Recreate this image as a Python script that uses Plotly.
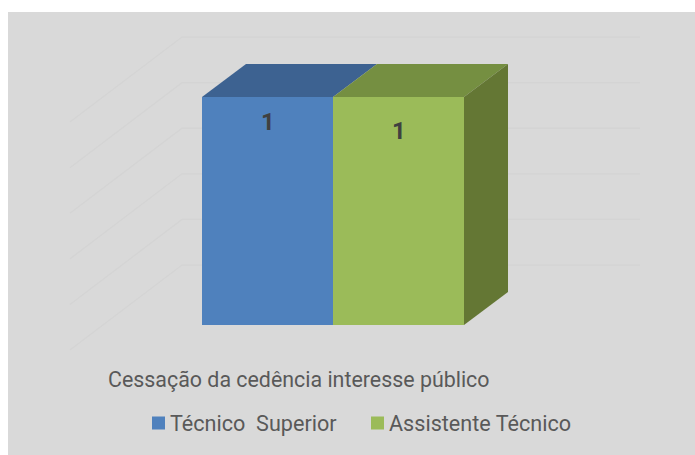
import plotly.graph_objects as go

# Data
categories = ["Técnico\u00a0 Superior", "Assistente Técnico"]
values = [1, 1]
bar_x = [0.5, 1.5]
label_y = [0.89, 0.85]
grid_values = [0, 0.2, 0.4, 0.6, 0.8, 1.0]
title_text = "Cessação da cedência interesse público"

# Style
front = ["#4F81BD", "#9BBB59"]
top = ["#3D6291", "#758F41"]
side = "#647734"
bg = "#D9D9D9"
grid = "#D4D4D4"
font = "Roboto"
dx, dy = 44 / 131, 33 / 228
W, H = 695, 455
xr = [(8 - 202) / 131, (695 - 202) / 131]
yr = [(325 - 455) / 228, (325 - 12) / 228]
key_swatch_px = [152, 371]
key_text_px = [170, 389]
key_y_px = 423

fig = go.Figure()
for c, v, x, f in zip(categories, values, bar_x, front):
    fig.add_trace(go.Bar(x=[x], y=[v], width=1, name=c, marker=dict(color=f, line=dict(width=0)),
                         hoverinfo="skip", showlegend=False))

# depth faces
for v, x, t in zip(values, bar_x, top):
    l, r = x - 0.5, x + 0.5
    fig.add_trace(go.Scatter(x=[l, r, r + dx, l + dx, l], y=[v, v, v + dy, v + dy, v], mode="lines", fill="toself",
                             fillcolor=t, line=dict(width=0), showlegend=False, hoverinfo="skip"))
r = bar_x[-1] + 0.5
fig.add_trace(go.Scatter(x=[r, r + dx, r + dx, r, r], y=[0, dy, values[-1] + dy, values[-1], 0], mode="lines", fill="toself",
                         fillcolor=side, line=dict(width=0), showlegend=False, hoverinfo="skip"))

# wall and floor grid
for g in grid_values:
    fig.add_shape(type="path", layer="below", xref="x", yref="y",
                  path=f"M {-1.008} {g - 0.11} L {-0.153} {g + 0.263} L {3.344} {g + 0.263}",
                  line=dict(color=grid, width=1.3))

for v, x, y in zip(values, bar_x, label_y):
    fig.add_annotation(x=x, y=y, text=f"<b>{v}</b>", showarrow=False, font=dict(family=font, size=24, color="#404040"))


def px_x(p):
    return (p - 8) / (W - 8)


def px_y(p):
    return 1 - (p - 12) / (H - 12)


# key under the chart
for c, f, sx, tx in zip(categories, front, key_swatch_px, key_text_px):
    fig.add_shape(type="rect", xref="paper", yref="paper", x0=px_x(sx), x1=px_x(sx + 13),
                  y0=px_y(key_y_px + 6.5), y1=px_y(key_y_px - 6.5), fillcolor=f, line=dict(width=0))
    fig.add_annotation(xref="paper", yref="paper", x=px_x(tx), y=px_y(key_y_px), xanchor="left", yanchor="middle",
                       text=c, showarrow=False, xshift=0, borderpad=0, borderwidth=0,
                       font=dict(family=font, size=21.6, color="#595959"))

fig.update_layout(
    width=W, height=H, margin=dict(l=8, t=12, r=0, b=0),
    paper_bgcolor="white", plot_bgcolor=bg, barmode="overlay", showlegend=False,
    title=dict(text=title_text, xref="paper", yref="container", x=(108 - 8) / 687, xanchor="left",
               y=1 - 380 / 455, yanchor="middle", font=dict(family=font, size=21.4, color="#595959")),
    xaxis=dict(range=xr, visible=False, fixedrange=True),
    yaxis=dict(range=yr, visible=False, fixedrange=True),
)
fig.write_html("out.html", config={"displayModeBar": False},
               post_script="document.body.style.margin='0';document.body.style.overflow='hidden';")
